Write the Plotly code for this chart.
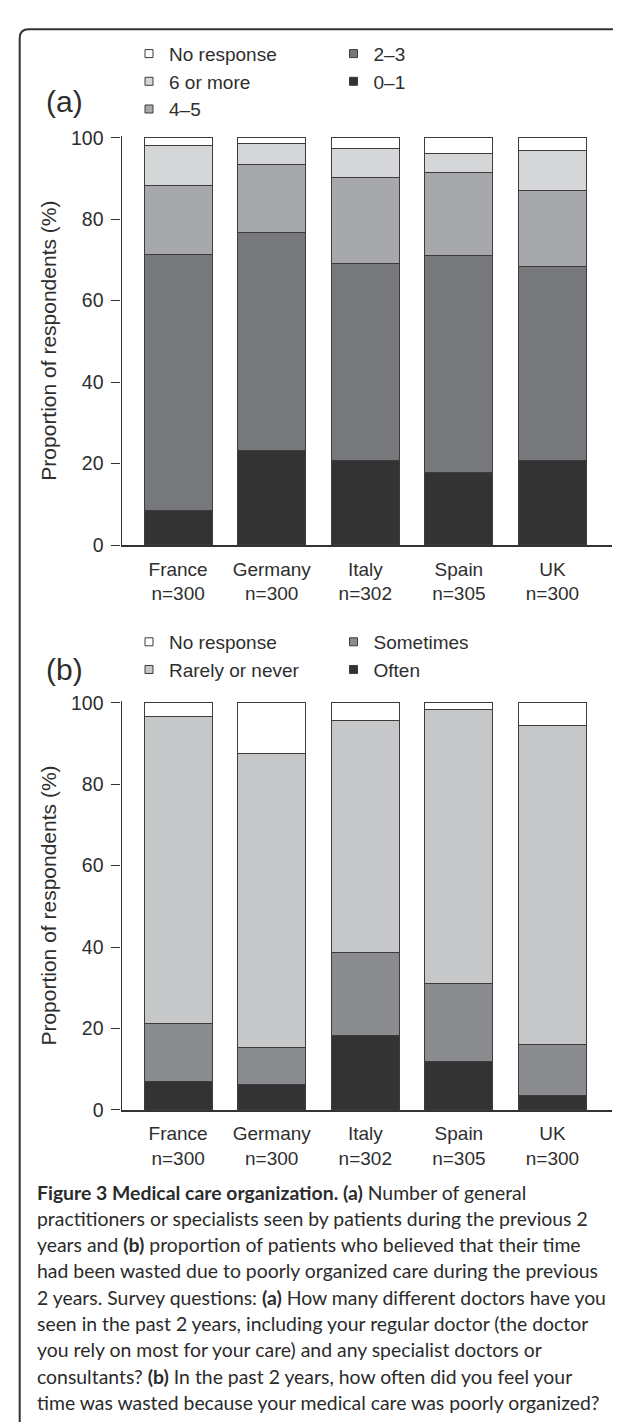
import plotly.graph_objects as go

# ---------------- data ----------------
countries = ["France", "Germany", "Italy", "Spain", "UK"]
sample_sizes = [300, 300, 302, 305, 300]

# (a) number of doctors seen (%), bottom -> top
doctors_0_1 = [8.3, 23.2, 20.7, 17.6, 20.7]
doctors_2_3 = [63.0, 53.5, 48.4, 53.3, 47.5]
doctors_4_5 = [16.9, 16.5, 21.0, 20.3, 18.8]
doctors_6_plus = [9.7, 5.3, 7.2, 4.9, 9.8]
doctors_no_response = [2.1, 1.5, 2.7, 3.9, 3.2]

# (b) time wasted due to poorly organized care (%), bottom -> top
wasted_often = [6.9, 6.2, 18.2, 11.7, 3.4]
wasted_sometimes = [14.3, 8.9, 20.4, 19.1, 12.4]
wasted_rarely = [75.2, 72.4, 57.0, 67.4, 78.4]
wasted_no_response = [3.6, 12.5, 4.4, 1.8, 5.8]

y_ticks = [0, 20, 40, 60, 80, 100]
y_title = "Proportion of respondents (%)"
panel_labels = ["(a)", "(b)"]

caption_lines = [
    "<b>Figure 3 Medical care organization. (a)</b> Number of general",
    "practitioners or specialists seen by patients during the previous 2",
    "years and <b>(b)</b> proportion of patients who believed that their time",
    "had been wasted due to poorly organized care during the previous",
    "2 years. Survey questions: <b>(a)</b> How many different doctors have you",
    "seen in the past 2 years, including your regular doctor (the doctor",
    "you rely on most for your care) and any specialist doctors or",
    "consultants? <b>(b)</b> In the past 2 years, how often did you feel your",
    "time was wasted because your medical care was poorly organized?",
]

# ---------------- layout helpers ----------------
W, H = 621, 1422
def px(x):
    return x / W
def py(y):
    return 1 - y / H

FONT = "Liberation Sans, Arial, Helvetica, sans-serif"
TXT = "#2e2e2e"
EDGE = "#3c3c3c"

tick_text = [f"{c}<br>n={n}" for c, n in zip(countries, sample_sizes)]

series_a = [
    ("0\u20131", doctors_0_1, "#333333", "legend2"),
    ("2\u20133", doctors_2_3, "#77787c", "legend2"),
    ("4\u20135", doctors_4_5, "#a7a8ab", "legend"),
    ("6 or more", doctors_6_plus, "#d5d6d8", "legend"),
    ("No response", doctors_no_response, "#ffffff", "legend"),
]
series_b = [
    ("Often", wasted_often, "#333333", "legend4"),
    ("Sometimes", wasted_sometimes, "#8b8c90", "legend4"),
    ("Rarely or never", wasted_rarely, "#c6c7c9", "legend3"),
    ("No response", wasted_no_response, "#ffffff", "legend3"),
]

fig = go.Figure()
for series, xa, ya in ((series_a, "x", "y"), (series_b, "x2", "y2")):
    for name, vals, col, _ in series:
        fig.add_trace(go.Bar(
            x=countries, y=vals, name=name, xaxis=xa, yaxis=ya,
            width=0.727, marker=dict(color=col, line=dict(color=EDGE, width=1)),
            showlegend=False,
        ))
    # legend entries (top entry first within each column)
    for name, vals, col, lg in reversed(series):
        fig.add_trace(go.Scatter(
            x=[None], y=[None], mode="markers", name=name, xaxis=xa, yaxis=ya,
            legend=lg,
            marker=dict(symbol="square", size=8, color=col, line=dict(color=EDGE, width=1)),
        ))

x_dom = [px(113.5), px(603.9)]
xax = dict(
    domain=x_dom, range=[-0.605, 4.635], type="category",
    tickvals=countries, ticktext=tick_text, showline=True, linecolor="#333",
    linewidth=1.5, ticks="", showgrid=False, zeroline=False,
    ticklabelstandoff=6,
    tickfont=dict(family=FONT, size=19, color=TXT),
)
yax = dict(
    range=[0, 100.4], tickvals=y_ticks, showline=True, linecolor="#333",
    linewidth=1.2, ticks="outside", ticklen=9, tickwidth=1.2, tickcolor="#333",
    showgrid=False, zeroline=False, ticklabelstandoff=4,
    tickfont=dict(family=FONT, size=19.5, color=TXT),
    title=dict(text=y_title, font=dict(family=FONT, size=21, color=TXT), standoff=8),
)

def legend_cfg(x_left, y_top):
    return dict(
        x=px(x_left), y=py(y_top), xanchor="left", yanchor="top",
        bgcolor="rgba(0,0,0,0)", borderwidth=0, tracegroupgap=0,
        traceorder="normal", itemclick=False, itemdoubleclick=False,
        font=dict(family=FONT, size=19, color=TXT),
    )

fig.update_layout(
    width=W, height=H, paper_bgcolor="white", plot_bgcolor="white",
    margin=dict(l=0, r=0, t=0, b=0), barmode="stack", bargap=0,
    xaxis=dict(xax, anchor="y"),
    yaxis=dict(yax, domain=[py(535), py(119.85)], anchor="x"),
    xaxis2=dict(xax, anchor="y2"),
    yaxis2=dict(yax, domain=[py(1108.3), py(693.35)], anchor="x2"),
    legend=legend_cfg(121, 17),
    legend2=legend_cfg(325.5, 17),
    legend3=legend_cfg(121, 614),
    legend4=legend_cfg(325.5, 614),
)

# panel labels
for lab, yc in zip(panel_labels, (85, 661)):
    fig.add_annotation(
        text=lab, x=px(56.5), y=py(yc), xref="paper", yref="paper",
        xanchor="center", yanchor="middle", showarrow=False,
        font=dict(family=FONT, size=30, color=TXT),
    )

# caption
cap_y0, cap_dy = 1191.7, 26.67
for i, line in enumerate(caption_lines):
    fig.add_annotation(
        text=line, x=px(26.7), y=py(cap_y0 + i * cap_dy), xref="paper", yref="paper",
        xanchor="left", yanchor="middle", showarrow=False, align="left",
        font=dict(family="Lato, Noto Sans, sans-serif", size=19.4, color="#2b2b2b"),
    )

# rounded frame (open on right and bottom)
x0, y0, r = 11.7, 11.5, 9
path = (f"M {px(x0)},{py(H + 5)} L {px(x0)},{py(y0 + r)} "
        f"Q {px(x0)},{py(y0)} {px(x0 + r)},{py(y0)} L {px(W + 5)},{py(y0)}")
fig.add_shape(type="path", path=path, xref="paper", yref="paper",
              line=dict(color="#333", width=2))

fig.write_html("out.html")
